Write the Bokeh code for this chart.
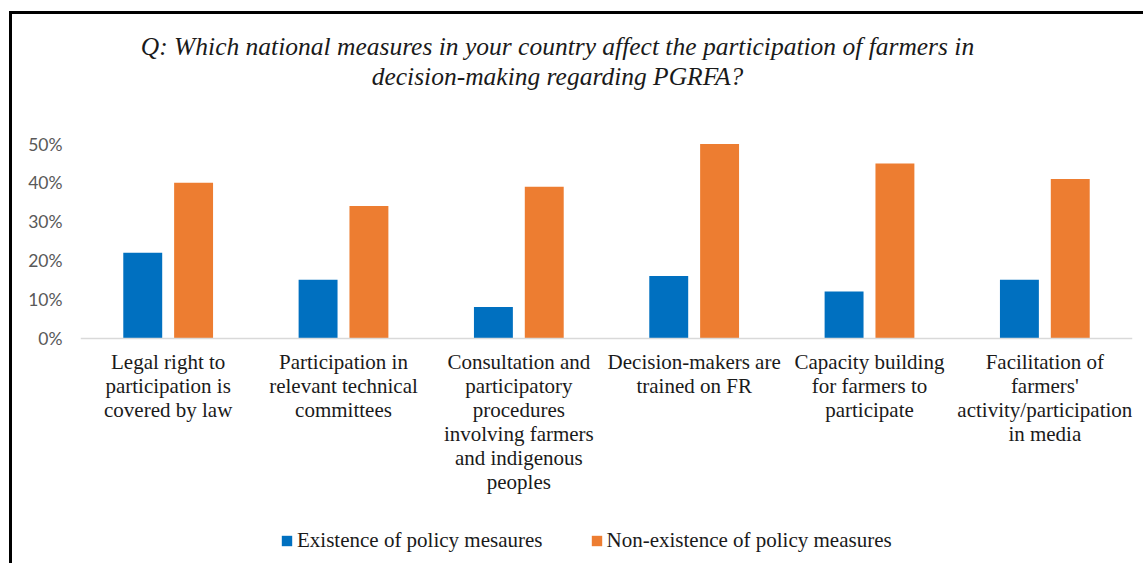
from bokeh.plotting import figure
from bokeh.models import (FactorRange, Range1d, FixedTicker, NumeralTickFormatter,
                          Legend, LegendItem, Label, ColumnDataSource)
from bokeh.transform import dodge
from bokeh.embed import file_html
from bokeh.resources import INLINE

# ---- data ----
categories = [
    "Legal right to\nparticipation is\ncovered by law",
    "Participation in\nrelevant technical\ncommittees",
    "Consultation and\nparticipatory\nprocedures\ninvolving farmers\nand indigenous\npeoples",
    "Decision-makers are\ntrained on FR",
    "Capacity building\nfor farmers to\nparticipate",
    "Facilitation of\nfarmers'\nactivity/participation\nin media",
]
existence = [0.22, 0.15, 0.08, 0.16, 0.12, 0.15]
non_existence = [0.40, 0.34, 0.39, 0.50, 0.45, 0.41]
y_ticks = [0, 0.1, 0.2, 0.3, 0.4, 0.5]
series_names = ["Existence of policy mesaures", "Non-existence of policy measures"]
title_lines = [
    "Q: Which national measures in your country affect the participation of farmers in",
    "decision-making regarding PGRFA?",
]

BLUE = "#0070C0"
ORANGE = "#ED7D31"
SERIF = "Liberation Serif"

source = ColumnDataSource(dict(cat=categories, ex=existence, nex=non_existence))

p = figure(
    x_range=FactorRange(factors=categories, range_padding=0),
    y_range=Range1d(-0.5888, 0.8338),
    width=1134, height=552,
    output_backend="svg", toolbar_location=None,
    min_border_left=68, min_border_right=14, min_border_top=0, min_border_bottom=0,
)
p.title.visible = False
p.styles = {"border-top": "3px solid #000", "border-left": "3px solid #000",
            "margin-top": "11px", "margin-left": "9px"}
p.outline_line_color = None
p.background_fill_color = "white"
p.border_fill_color = "white"
p.xgrid.visible = False
p.ygrid.visible = False

r1 = p.vbar(x=dodge("cat", -0.145, range=p.x_range), top="ex", width=0.222, source=source,
            fill_color=BLUE, line_color=None)
r2 = p.vbar(x=dodge("cat", 0.145, range=p.x_range), top="nex", width=0.222, source=source,
            fill_color=ORANGE, line_color=None)

# two-line title, centred a little left of the plot centre
title_style = dict(text_font=SERIF, text_font_style="italic", text_font_size="25.5px",
                   text_color="#1a1a1a", text_align="center", text_baseline="alphabetic")
p.add_layout(Label(x=2.7205, y=0.751, text=title_lines[0], **title_style))
p.add_layout(Label(x=2.7205, y=0.673, text=title_lines[1], **title_style))

# y axis
p.yaxis.ticker = FixedTicker(ticks=y_ticks)
p.yaxis.formatter = NumeralTickFormatter(format="0%")
p.yaxis.axis_line_color = None
p.yaxis.major_tick_line_color = None
p.yaxis.minor_tick_line_color = None
p.yaxis.major_tick_out = 0
p.yaxis.major_tick_in = 0
p.yaxis.major_label_standoff = 18
p.yaxis.major_label_text_font = "Lato"
p.yaxis.major_label_text_font_size = "17.5px"
p.yaxis.major_label_text_color = "#595959"

# x axis sits at y = 0 inside the frame
p.xaxis.fixed_location = 0
p.xaxis.axis_line_color = "#d9d9d9"
p.xaxis.axis_line_width = 1.5
p.xaxis.major_tick_line_color = None
p.xaxis.major_tick_out = 0
p.xaxis.major_tick_in = 0
p.xaxis.major_label_standoff = 12
p.xaxis.major_label_text_font = SERIF
p.xaxis.major_label_text_font_size = "21px"
p.xaxis.major_label_text_color = "#1a1a1a"
p.xaxis.major_label_text_line_height = 1.0
p.xaxis.major_label_orientation = "horizontal"

legend = Legend(
    items=[LegendItem(label=series_names[0], renderers=[r1]),
           LegendItem(label=series_names[1], renderers=[r2])],
    orientation="horizontal", location=(200, 13),
    padding=0, margin=0, spacing=47, label_standoff=4,
    glyph_width=13, glyph_height=13, label_height=14,
    border_line_color=None, background_fill_alpha=0,
    label_text_font=SERIF, label_text_font_size="21px", label_text_color="#1a1a1a",
)
p.add_layout(legend, "center")

open("out.html", "w").write(file_html(p, INLINE))
